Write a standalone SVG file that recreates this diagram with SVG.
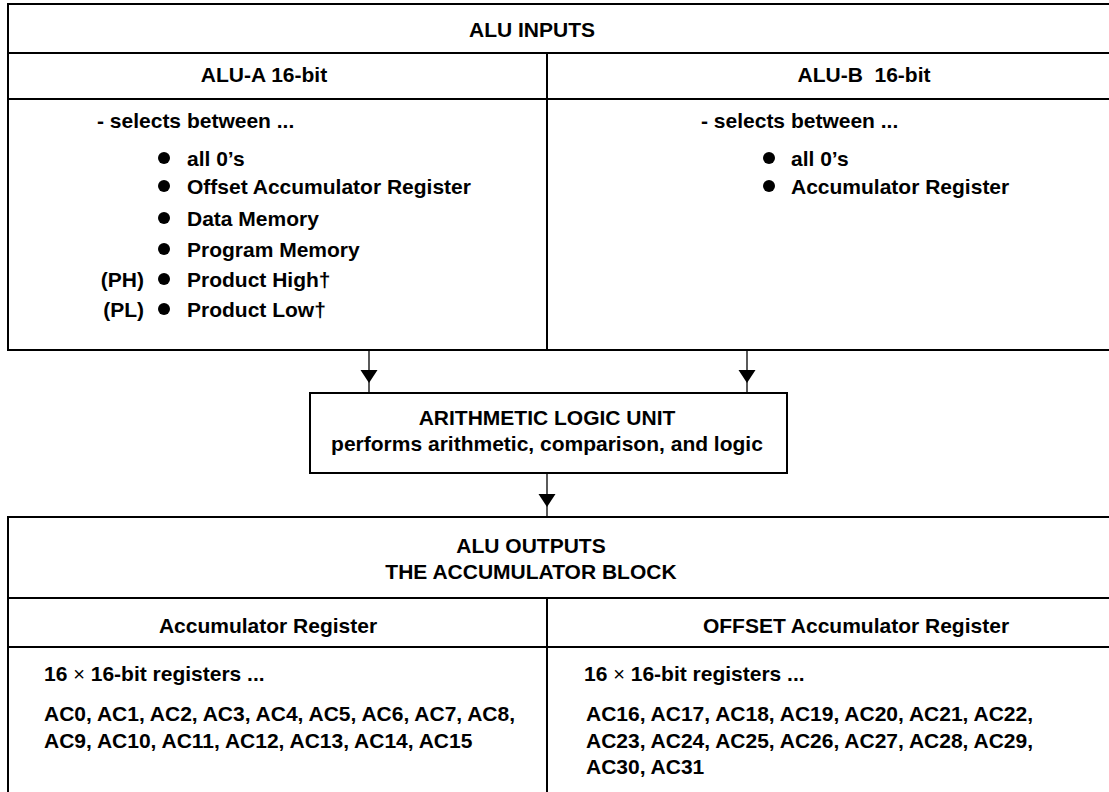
<svg xmlns="http://www.w3.org/2000/svg" width="1109" height="792" viewBox="0 0 1109 792">
<style>
text{font-family:"Liberation Sans",Arial,sans-serif;font-weight:bold;font-size:21px;fill:#000}
.c{text-anchor:middle}
.e{text-anchor:end}
.box{fill:#fff;stroke:#000;stroke-width:2}
.ln{stroke:#000;stroke-width:2;fill:none}
.wire{stroke:#000;stroke-width:1.3;fill:none}
.dot{fill:#000}
.x{font-weight:normal;font-size:20px}
</style>
<defs>
<polygon id="head" points="-8.5,0 8.5,0 0,13" fill="#000"/>
</defs>
<rect width="1109" height="792" fill="#fff"/>

<g id="alu-inputs">
<rect class="box" x="8" y="4" width="1110" height="346"/>
<line class="ln" x1="8" y1="53" x2="1118" y2="53"/>
<line class="ln" x1="8" y1="99" x2="1118" y2="99"/>
<line class="ln" x1="547" y1="53" x2="547" y2="350"/>
<text class="c" x="532" y="37">ALU INPUTS</text>
<text class="c" x="264" y="82">ALU-A 16-bit</text>
<text class="c" x="864" y="82" style="white-space:pre">ALU-B  16-bit</text>
<text x="97" y="128">- selects between ...</text>
<circle class="dot" cx="164" cy="158" r="6"/>
<circle class="dot" cx="164" cy="186" r="6"/>
<circle class="dot" cx="164" cy="218" r="6"/>
<circle class="dot" cx="164" cy="249" r="6"/>
<circle class="dot" cx="164" cy="279" r="6"/>
<circle class="dot" cx="164" cy="309" r="6"/>
<text x="187" y="166">all 0’s</text>
<text x="187" y="194">Offset Accumulator Register</text>
<text x="187" y="226">Data Memory</text>
<text x="187" y="257">Program Memory</text>
<text x="187" y="287">Product High†</text>
<text x="187" y="317">Product Low†</text>
<text class="e" x="144" y="287">(PH)</text>
<text class="e" x="144" y="317">(PL)</text>
<text x="701" y="128">- selects between ...</text>
<circle class="dot" cx="769" cy="158" r="6"/>
<circle class="dot" cx="769" cy="186" r="6"/>
<text x="791" y="166">all 0’s</text>
<text x="791" y="194">Accumulator Register</text>
</g>

<g id="alu">
<rect class="box" x="310" y="393" width="477" height="80"/>
<text class="c" x="547" y="425">ARITHMETIC LOGIC UNIT</text>
<text class="c" x="547" y="451">performs arithmetic, comparison, and logic</text>
</g>

<g id="alu-outputs">
<rect class="box" x="8" y="517" width="1110" height="290"/>
<line class="ln" x1="8" y1="598" x2="1118" y2="598"/>
<line class="ln" x1="8" y1="647" x2="1118" y2="647"/>
<line class="ln" x1="547" y1="598" x2="547" y2="807"/>
<text class="c" x="531" y="553">ALU OUTPUTS</text>
<text class="c" x="531" y="579">THE ACCUMULATOR BLOCK</text>
<text class="c" x="268" y="633">Accumulator Register</text>
<text class="c" x="856" y="633">OFFSET Accumulator Register</text>
<text x="44" y="681">16 <tspan class="x">×</tspan> 16-bit registers ...</text>
<text x="44" y="721">AC0, AC1, AC2, AC3, AC4, AC5, AC6, AC7, AC8,</text>
<text x="44" y="748">AC9, AC10, AC11, AC12, AC13, AC14, AC15</text>
<text x="584" y="681">16 <tspan class="x">×</tspan> 16-bit registers ...</text>
<text x="586" y="721">AC16, AC17, AC18, AC19, AC20, AC21, AC22,</text>
<text x="586" y="748">AC23, AC24, AC25, AC26, AC27, AC28, AC29,</text>
<text x="586" y="774">AC30, AC31</text>
</g>

<g id="connectors">
<line class="wire" x1="369" y1="351" x2="369" y2="393"/>
<use href="#head" x="369" y="370"/>
<line class="wire" x1="747" y1="351" x2="747" y2="393"/>
<use href="#head" x="747" y="370"/>
<line class="wire" x1="547" y1="474" x2="547" y2="517"/>
<use href="#head" x="547" y="494"/>
</g>
</svg>
